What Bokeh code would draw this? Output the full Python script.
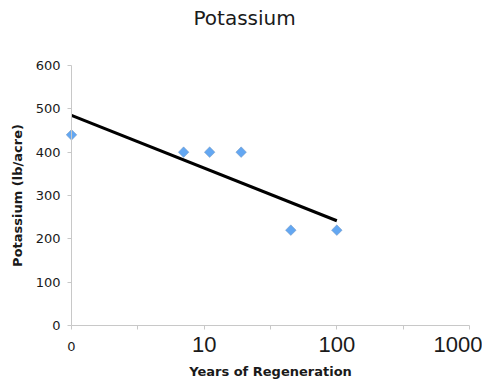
import numpy as np
from bokeh.plotting import figure
from bokeh.models import Range1d, FixedTicker, Label, LogAxis, LinearAxis
from bokeh.embed import file_html
from bokeh.resources import INLINE

# Data
years = [1, 7, 11, 19, 45, 100]
potassium = [440, 400, 400, 400, 220, 220]
x_tick_values = [1, 10, 100, 1000]
x_tick_labels = ["0", "10", "100", "1000"]
x_minor_ticks = [10 ** 0.5, 10 ** 1.5, 10 ** 2.5]
y_ticks = [0, 100, 200, 300, 400, 500, 600]

# logarithmic trendline fit
b, a = np.polyfit(np.log10(years), potassium, 1)
trend_x = [min(years), max(years)]
trend_y = [a + b * np.log10(v) for v in trend_x]

GRAY = "#c8c8c8"
TXT = "#1a1a1a"

# The frame fills the canvas below the title; the axes are fixed inside it,
# so the tick labels can be drawn as free text next to them.
W, H = 482, 385
FRAME_TOP = 36            # height of the title band
X0, X1 = 1, 1000
PLOT_L, PLOT_R = 71, 469
Y0, Y1 = 0, 600
PLOT_T, PLOT_B = 65, 325
dec_px = (PLOT_R - PLOT_L) / (np.log10(X1) - np.log10(X0))
x_start = 10 ** (np.log10(X0) - PLOT_L / dec_px)
x_end = 10 ** (np.log10(X1) + (W - PLOT_R) / dec_px)
unit_px = (PLOT_B - PLOT_T) / (Y1 - Y0)
y_start = Y0 - (H - PLOT_B) / unit_px
y_end = Y1 + (PLOT_T - FRAME_TOP) / unit_px

p = figure(width=W, height=H, x_axis_type="log",
           x_axis_location=None, y_axis_location=None,
           x_range=Range1d(x_start, x_end), y_range=Range1d(y_start, y_end),
           output_backend="svg", toolbar_location=None,
           min_border_left=0, min_border_right=0,
           min_border_top=FRAME_TOP, min_border_bottom=0)
p.outline_line_color = None
p.grid.visible = False
p.background_fill_color = "white"
p.border_fill_color = "white"

p.title.text = "Potassium"
p.title.align = "left"
p.title.vertical_align = "top"
p.title.text_font = "DejaVu Sans"
p.title.text_font_size = "20px"
p.title.text_font_style = "normal"
p.title.text_color = TXT
p.title.offset = 193
p.title.standoff = 10

# x axis, fixed at y = 0
xa = LogAxis(fixed_location=Y0, bounds=(X0, X1))
xa.ticker = FixedTicker(ticks=x_tick_values, minor_ticks=x_minor_ticks)
xa.major_label_overrides = {v: "" for v in x_tick_values}
xa.axis_line_color = GRAY
xa.major_tick_line_color = GRAY
xa.minor_tick_line_color = GRAY
xa.major_tick_in = 0
xa.major_tick_out = 4
xa.minor_tick_in = 0
xa.minor_tick_out = 4
xa.axis_label = "Years of Regeneration"
xa.axis_label_text_font = "DejaVu Sans"
xa.axis_label_text_font_size = "13px"
xa.axis_label_text_font_style = "bold"
xa.axis_label_text_color = TXT
xa.axis_label_standoff = 34
p.add_layout(xa, "below")

# y axis, fixed at x = 1
ya = LinearAxis(fixed_location=X0, bounds=(Y0, Y1))
ya.ticker = FixedTicker(ticks=y_ticks)
ya.minor_tick_line_color = None
ya.axis_line_color = GRAY
ya.major_tick_line_color = GRAY
ya.major_tick_in = 0
ya.major_tick_out = 4
ya.major_label_standoff = 7
ya.major_label_text_font = "DejaVu Sans"
ya.major_label_text_font_size = "13px"
ya.major_label_text_color = TXT
ya.axis_label = "Potassium (lb/acre)"
ya.axis_label_text_font = "DejaVu Sans"
ya.axis_label_text_font_size = "13px"
ya.axis_label_text_font_style = "bold"
ya.axis_label_text_color = TXT
ya.axis_label_standoff = 8
p.add_layout(ya, "left")

# x tick labels
for v, t in zip(x_tick_values, x_tick_labels):
    small = (t == "0")
    lab = Label(x=v, y=Y0, x_units="data", y_units="data", text=t,
                text_font="DejaVu Sans" if small else "Liberation Sans",
                text_font_size="13px" if small else "22px",
                text_color=TXT,
                text_align="right" if v == X1 else "center",
                text_baseline="middle",
                x_offset=13 if v == X1 else 0,
                y_offset=-21 if small else -19)
    p.add_layout(lab)

# trendline
p.line(trend_x, trend_y, line_color="black", line_width=3)

# data points
p.scatter(years, potassium, marker="square", angle=np.pi / 4, size=7.5,
          fill_color="#63a7f2", line_color="#7f9bbd", line_width=0.5)

open("out.html", "w").write(file_html(p, INLINE))
